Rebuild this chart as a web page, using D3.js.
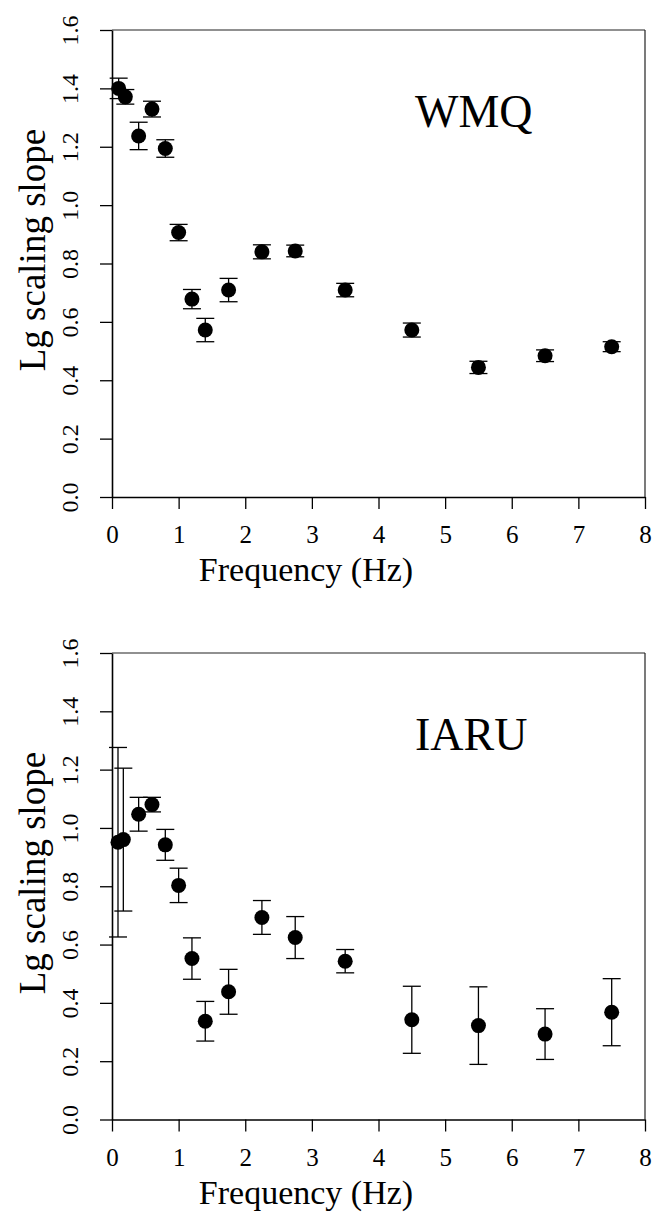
<!DOCTYPE html>
<html>
<head>
<meta charset="utf-8">
<script src="https://cdn.jsdelivr.net/npm/d3@7"></script>
<style>
  html, body { margin: 0; padding: 0; background: #fff; }
  svg { display: block; }
  text { font-family: "Liberation Serif", "Times New Roman", serif; fill: #000; }
</style>
</head>
<body>
<svg id="chart" width="652" height="1223"></svg>
<script>
// ---- data ----
const freqHz = [0.1, 0.2, 0.4, 0.6, 0.8, 1.0, 1.2, 1.4, 1.75, 2.25, 2.75, 3.5, 4.5, 5.5, 6.5, 7.5];
const wmqSlope = [1.40, 1.371, 1.237, 1.329, 1.194, 0.906, 0.678, 0.572, 0.709, 0.840, 0.843, 0.709, 0.572, 0.444, 0.484, 0.515];
const wmqErr   = [0.035, 0.025, 0.047, 0.027, 0.030, 0.028, 0.033, 0.040, 0.040, 0.024, 0.020, 0.023, 0.024, 0.021, 0.020, 0.017];
const iaruFreqHz = [0.09, 0.17, 0.4, 0.6, 0.8, 1.0, 1.2, 1.4, 1.75, 2.25, 2.75, 3.5, 4.5, 5.5, 6.5, 7.5];
const iaruSlope = [0.951, 0.960, 1.047, 1.080, 0.942, 0.803, 0.552, 0.337, 0.438, 0.693, 0.624, 0.543, 0.342, 0.322, 0.293, 0.368];
const iaruErr   = [0.325, 0.245, 0.058, 0.025, 0.053, 0.059, 0.071, 0.068, 0.077, 0.058, 0.072, 0.040, 0.115, 0.133, 0.087, 0.115];
const xTicks = [0, 1, 2, 3, 4, 5, 6, 7, 8];
const yTicks = [0.0, 0.2, 0.4, 0.6, 0.8, 1.0, 1.2, 1.4, 1.6];
const panelNames = ["WMQ", "IARU"];
const xTitle = "Frequency (Hz)";
const yTitle = "Lg scaling slope";

// ---- layout ----
const svg = d3.select("#chart");
const left = 112, right = 645;
const panels = [
  { name: panelNames[0], top: 30, bottom: 497, x: freqHz, y: wmqSlope, e: wmqErr },
  { name: panelNames[1], top: 653, bottom: 1119.5, x: iaruFreqHz, y: iaruSlope, e: iaruErr }
];

panels.forEach(p => {
  const x = d3.scaleLinear().domain([0, 8]).range([left, right]);
  const y = d3.scaleLinear().domain([0, 1.6]).range([p.bottom, p.top]);
  const g = svg.append("g");

  // frame (top & right)
  g.append("line").attr("x1", left).attr("x2", right).attr("y1", p.top).attr("y2", p.top)
    .attr("stroke", "#222").attr("stroke-width", 1.2);
  g.append("line").attr("x1", right).attr("x2", right).attr("y1", p.top).attr("y2", p.bottom)
    .attr("stroke", "#222").attr("stroke-width", 1.2);

  // x axis
  const xa = g.append("g").attr("transform", `translate(0,${p.bottom})`)
    .call(d3.axisBottom(x).tickValues(xTicks).tickSize(12).tickSizeOuter(0).tickFormat(d3.format("d")));
  xa.attr("font-size", null).attr("font-family", null);
  xa.select(".domain").attr("stroke", "#000").attr("stroke-width", 1.6);
  xa.selectAll(".tick line").attr("stroke", "#000").attr("stroke-width", 1.3);
  xa.selectAll(".tick text").attr("y", 46).attr("dy", null)
    .style("font-size", "25px").style("font-family", '"Liberation Serif", serif').attr("fill", "#000");

  // y axis
  const ya = g.append("g").attr("transform", `translate(${left},0)`)
    .call(d3.axisLeft(y).tickValues(yTicks).tickSize(12).tickSizeOuter(0).tickFormat(d3.format(".1f")));
  ya.attr("font-size", null).attr("font-family", null);
  ya.select(".domain").attr("stroke", "#000").attr("stroke-width", 1.6);
  ya.selectAll(".tick line").attr("stroke", "#000").attr("stroke-width", 1.3);
  ya.selectAll(".tick text")
    .attr("x", 0).attr("y", -34).attr("dy", null)
    .attr("transform", "rotate(-90)").attr("text-anchor", "middle")
    .style("font-size", "24px").style("font-family", '"Liberation Serif", serif').attr("fill", "#000");

  // axis titles
  g.append("text").attr("x", 306).attr("y", p.bottom + 84).attr("text-anchor", "middle")
    .style("font-size", "34px").text(xTitle);
  const yc = p.top + 220;
  g.append("text").attr("transform", `translate(45,${yc}) rotate(-90)`).attr("text-anchor", "middle")
    .style("font-size", "37px").text(yTitle);

  // panel label
  g.append("text").attr("x", 415).attr("y", p.top + 97).style("font-size", "46px").text(p.name);

  // error bars
  const idx = d3.range(p.x.length);
  const eb = g.append("g").attr("stroke", "#000").attr("stroke-width", 1.3);
  idx.forEach(i => {
    const cx = x(p.x[i]);
    const y1 = y(p.y[i] + p.e[i]), y2 = y(p.y[i] - p.e[i]);
    eb.append("line").attr("x1", cx).attr("x2", cx).attr("y1", y1).attr("y2", y2);
    eb.append("line").attr("x1", cx - 9).attr("x2", cx + 9).attr("y1", y1).attr("y2", y1);
    eb.append("line").attr("x1", cx - 9).attr("x2", cx + 9).attr("y1", y2).attr("y2", y2);
  });

  // points
  g.append("g").selectAll("circle").data(idx).join("circle")
    .attr("cx", i => x(p.x[i])).attr("cy", i => y(p.y[i])).attr("r", 7.5).attr("fill", "#000");
});
</script>
</body>
</html>
